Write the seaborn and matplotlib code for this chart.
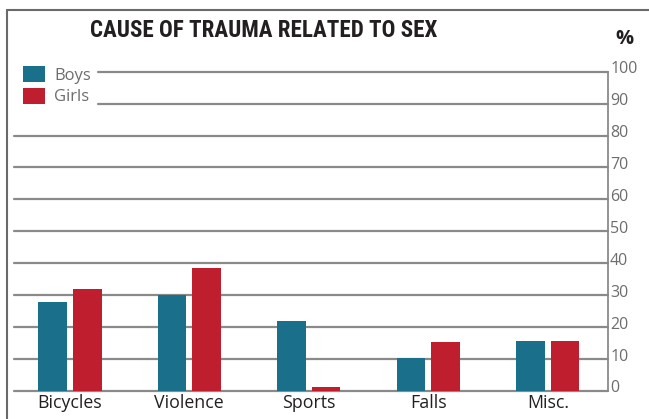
import matplotlib
matplotlib.use("Agg")
import matplotlib.pyplot as plt
from matplotlib.lines import Line2D
from matplotlib.transforms import ScaledTranslation
import seaborn as sns
import pandas as pd

categories = ["Bicycles", "Violence", "Sports", "Falls", "Misc."]
boys = [28, 30, 22, 10.3, 15.6]
girls = [32, 38.5, 1.2, 15.2, 15.6]
series = ["Boys", "Girls"]
colors = ["#1a708b", "#be1e2d"]
yticks = [0, 10, 20, 30, 40, 50, 60, 70, 80, 90, 100]

df = pd.DataFrame({
    "cause": categories * 2,
    "sex": ["Boys"] * len(categories) + ["Girls"] * len(categories),
    "value": boys + girls,
})

sns.set_theme(style="white")
plt.rcParams['font.family'] = ['Open Sans', 'DejaVu Sans']

W, H = 649, 419
fig = plt.figure(figsize=(W / 100, H / 100), dpi=100)
ax_left, ax_right, ax_bottom, ax_top = 14, 608, 391, 71.7
ax = fig.add_axes([ax_left / W, 1 - ax_bottom / H, (ax_right - ax_left) / W, (ax_bottom - ax_top) / H])

sns.barplot(data=df, x="cause", y="value", hue="sex", order=categories,
            hue_order=series, palette=colors, width=0.58, gap=0.17,
            saturation=1, ax=ax, legend=True, zorder=3, linewidth=0, edgecolor="none")

ax.set_xlim(-0.467, 4.504)
ax.set_ylim(0, 100)
ax.set_xlabel("")
ax.set_ylabel("")

grid_color = "#8a8a8a"
for v in yticks:
    xmin = (98 - ax_left) / (ax_right - ax_left) if v >= 90 else 0
    ax.axhline(v, xmin=xmin, xmax=1, color=grid_color, lw=1.6, zorder=1, clip_on=False)

for s in ["left", "top", "bottom"]:
    ax.spines[s].set_visible(False)
ax.spines["right"].set_color(grid_color)
ax.spines["right"].set_linewidth(1.3)

ax.yaxis.tick_right()
ax.set_yticks(yticks)
ax.set_yticklabels([str(v) for v in yticks])
ax.tick_params(axis="y", length=0, pad=1.5, labelsize=11.5, labelcolor="#6d6d6d")
ax.tick_params(axis="x", length=0, pad=2.5, labelsize=12.8, labelcolor="#231f20")
for lab in ax.get_yticklabels():
    lab.set_transform(lab.get_transform() + ScaledTranslation(0, 4.5 / 100, fig.dpi_scale_trans))

leg = ax.get_legend()
handles = leg.legend_handles
for h in handles:
    h.set_edgecolor("none")
    h.set_linewidth(0)
leg.remove()
fig.legend(handles, series, loc="upper left",
           bbox_to_anchor=(23 / W, 1 - 66 / H), bbox_transform=fig.transFigure,
           frameon=False, fontsize=12, handlelength=1.32, handleheight=1.14,
           labelspacing=0.22, handletextpad=0.55, borderpad=0, borderaxespad=0,
           labelcolor="#6d6d6d")

fig.text(90 / W, 1 - 30.5 / H, "CAUSE OF TRAUMA RELATED TO SEX",
         family=['Roboto Condensed', 'Roboto', 'DejaVu Sans'], fontweight="bold",
         fontsize=16.6, color="#231f20", ha="left", va="center")
fig.text(624 / W, 1 - 39.5 / H, "%", fontweight="bold", fontsize=14.5,
         color="#231f20", ha="center", va="center")

frame_color = "#6a6a6a"
fig.add_artist(Line2D([6.7 / W, 6.7 / W], [0, 1 - 10 / H], color=frame_color, lw=1.5, transform=fig.transFigure))
fig.add_artist(Line2D([6.7 / W, 1], [1 - 10 / H, 1 - 10 / H], color=frame_color, lw=1.5, transform=fig.transFigure))

fig.savefig("out.png", dpi=100)
